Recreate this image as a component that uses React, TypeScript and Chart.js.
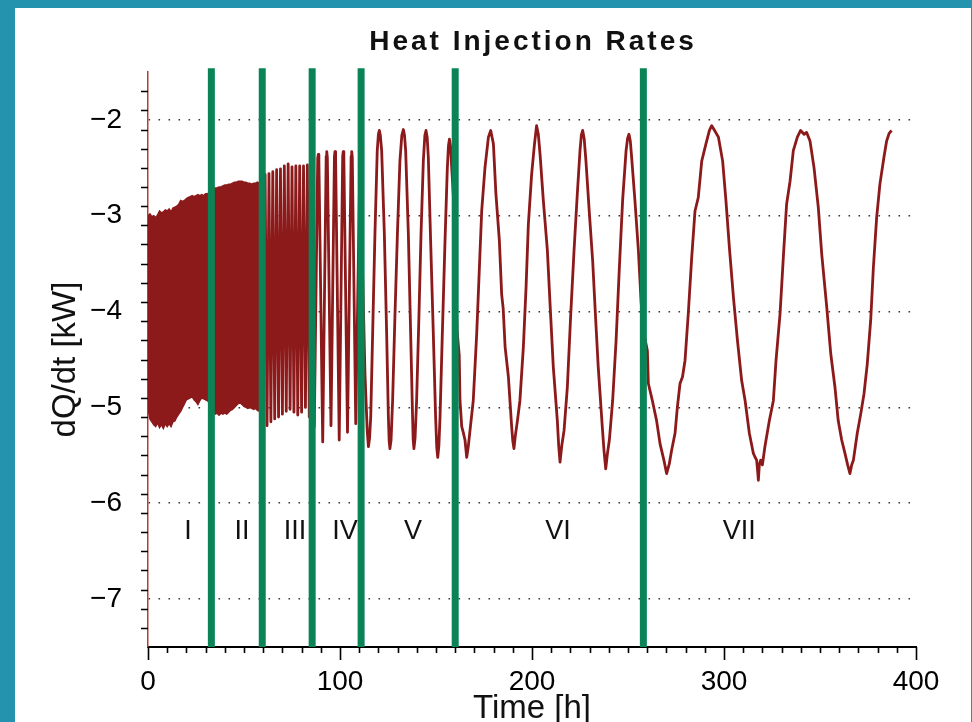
import { useEffect, useRef } from 'react';
import { Chart, registerables } from 'chart.js';

Chart.register(...registerables);

// ---- Data ----
// Stages I and II oscillate so fast that they read as a solid band: [time h, upper kW, lower kW].
const BAND_I_II: [number, number, number][] = [
  [0, -3.0, -5.02], [1, -2.98, -5.12], [2, -3.01, -5.15], [3, -3.0, -5.18], [4, -3.02, -5.2],
  [5, -2.99, -5.16], [6, -2.95, -5.21], [7, -2.97, -5.18], [8, -2.96, -5.22], [9, -2.94, -5.17],
  [10, -2.95, -5.2], [11, -2.93, -5.17], [12, -2.96, -5.2], [13, -2.92, -5.15], [14, -2.91, -5.14],
  [15, -2.9, -5.1], [16, -2.88, -5.07], [17, -2.84, -5.04], [18, -2.85, -5.0], [19, -2.84, -4.96],
  [20, -2.82, -4.92], [21, -2.81, -4.91], [22, -2.8, -4.9], [23, -2.79, -4.89], [24, -2.8, -4.92],
  [25, -2.79, -4.94], [26, -2.78, -4.97], [27, -2.79, -4.93], [28, -2.78, -4.9], [29, -2.79, -4.91],
  [30, -2.77, -4.92], [31, -2.77, -4.93], [32, -2.76, -4.95], [33, -2.75, -5.0], [34, -2.72, -5.05],
  [35, -2.71, -5.07], [36, -2.71, -5.06], [37, -2.7, -5.08], [38, -2.7, -5.06], [39, -2.69, -5.07],
  [40, -2.68, -5.06], [41, -2.68, -5.07], [42, -2.67, -5.05], [43, -2.67, -5.03], [44, -2.66, -5.02],
  [45, -2.65, -5.0], [46, -2.65, -4.98], [47, -2.64, -4.96], [48, -2.64, -4.95], [49, -2.64, -4.97],
  [50, -2.65, -4.99], [51, -2.65, -5.0], [52, -2.66, -5.01], [53, -2.66, -5.0], [54, -2.67, -5.01],
  [55, -2.66, -5.02], [56, -2.66, -5.01], [57, -2.65, -5.03], [58, -2.66, -5.04], [59, -2.65, -5.05],
  [59.5, -2.65, -5.06],
];

// Stages III to VII: the trace itself, [time h, dQ/dt kW].
const STAGE_III: [number, number][] = [
  [59.5, -4.0], [60.0, -5.12], [61.0, -2.57], [62.0, -5.19], [63.0, -2.56], [64.0, -5.15], [65.0, -2.54],
  [66.0, -5.12], [67.0, -2.52], [68.0, -5.1], [69.0, -2.51], [70.0, -5.07], [71.0, -2.48], [72.0, -5.04],
  [73.0, -2.46], [74.0, -5.02], [75.0, -2.49], [76.0, -5.05], [77.0, -2.48], [78.0, -5.08], [79.0, -2.48],
  [80.0, -5.05], [81.0, -2.48], [82.0, -5.0], [83.0, -2.47], [84.0, -5.1], [85.0, -2.45],
];
const STAGE_IV: [number, number][] = [
  [86.6, -5.2], [88.4, -2.4], [88.7, -2.36], [89.0, -2.42], [91.0, -5.36], [92.8, -2.38], [93.1, -2.33],
  [93.4, -2.39], [95.3, -5.19], [97.1, -2.38], [97.4, -2.33], [97.7, -2.39], [99.6, -5.34], [101.4, -2.38],
  [101.7, -2.33], [102.0, -2.39], [103.9, -5.26], [105.8, -2.38], [106.1, -2.33], [106.4, -2.39],
  [108.2, -5.17], [110.4, -2.4],
];
const STAGE_V: [number, number][] = [
  [113.0, -4.65], [114.2, -5.25], [114.8, -5.41], [115.4, -5.32], [116.0, -5.1], [117.0, -4.23],
  [118.2, -3.19], [119.4, -2.32], [120.0, -2.15], [120.5, -2.11], [121.0, -2.16], [121.7, -2.32],
  [123.1, -3.19], [124.3, -4.23], [125.2, -5.1], [125.6, -5.35], [126.0, -5.43], [126.6, -5.34],
  [127.4, -4.93], [128.6, -4.06], [129.9, -3.19], [131.2, -2.43], [132.2, -2.16], [133.0, -2.1],
  [133.6, -2.16], [134.2, -2.32], [135.6, -3.19], [136.8, -4.23], [137.8, -5.1], [138.1, -5.33],
  [138.5, -5.43], [139.1, -5.32], [139.9, -4.93], [141.1, -4.06], [142.2, -3.19], [143.4, -2.43],
  [144.2, -2.16], [144.8, -2.11], [145.4, -2.18], [146.0, -2.39], [147.2, -3.26], [148.6, -4.23],
  [149.8, -5.1], [150.4, -5.42], [150.9, -5.52], [151.5, -5.4], [152.1, -5.1], [153.3, -4.23],
  [154.7, -3.26], [155.9, -2.5], [156.5, -2.27], [157.0, -2.2], [157.6, -2.28], [158.2, -2.5],
  [159.1, -2.81], [160.0, -3.6], [161.0, -4.2],
];
const STAGE_VI: [number, number][] = [
  [162.1, -4.46], [162.5, -4.93], [163.4, -5.2], [164.2, -5.26], [165.1, -5.34], [166.0, -5.52],
  [166.8, -5.41], [168.1, -5.17], [169.4, -4.93], [170.2, -4.62], [171.2, -4.23], [172.6, -3.54],
  [173.8, -2.95], [175.5, -2.5], [177.3, -2.18], [178.5, -2.11], [179.9, -2.25], [181.2, -2.77],
  [183.0, -3.26], [184.2, -3.82], [185.0, -3.97], [186.0, -4.37], [187.7, -4.68], [189.4, -5.2],
  [190.0, -5.35], [190.6, -5.43], [191.3, -5.3], [192.4, -5.14], [193.7, -4.93], [195.5, -4.37],
  [196.9, -3.75], [198.1, -3.09], [199.8, -2.57], [201.3, -2.25], [202.4, -2.06], [203.3, -2.15],
  [204.2, -2.36], [205.9, -2.84], [208.0, -3.36], [209.4, -3.92], [211.1, -4.58], [213.2, -5.14],
  [213.9, -5.4], [214.6, -5.57], [215.5, -5.4], [216.7, -5.24], [218.4, -4.79], [220.1, -4.06],
  [221.9, -3.36], [223.6, -2.77], [225.0, -2.32], [225.7, -2.16], [226.4, -2.11], [227.2, -2.2],
  [228.1, -2.43], [229.9, -2.98], [231.6, -3.47], [233.0, -4.02], [234.5, -4.58], [236.6, -5.2],
  [237.5, -5.45], [238.4, -5.64], [239.3, -5.48], [240.3, -5.34], [242.0, -4.93], [243.8, -4.3],
  [245.5, -3.54], [247.2, -2.84], [249.0, -2.32], [249.8, -2.19], [250.5, -2.15], [251.2, -2.22],
  [251.9, -2.39], [253.6, -2.84], [255.4, -3.36], [256.8, -3.89], [258.0, -4.2],
];
const STAGE_VII: [number, number][] = [
  [260.1, -4.41], [260.6, -4.75], [262.7, -4.93], [264.9, -5.14], [266.7, -5.38], [268.7, -5.55],
  [270.1, -5.69], [271.5, -5.59], [272.7, -5.45], [274.5, -5.27], [275.7, -5.0], [277.1, -4.75],
  [278.4, -4.68], [279.7, -4.51], [281.4, -4.02], [283.2, -3.43], [284.9, -2.95], [286.6, -2.81],
  [288.4, -2.43], [290.6, -2.25], [292.4, -2.11], [293.6, -2.06], [294.8, -2.1], [297.1, -2.18],
  [299.3, -2.43], [301.0, -2.84], [302.8, -3.33], [304.9, -3.85], [307.0, -4.3], [309.2, -4.72],
  [311.0, -4.93], [313.2, -5.27], [315.3, -5.48], [316.2, -5.52], [317.0, -5.55], [317.5, -5.66],
  [317.9, -5.76], [318.4, -5.6], [319.1, -5.55], [320.0, -5.6], [321.3, -5.41], [323.6, -5.14],
  [325.7, -4.93], [327.1, -4.51], [329.2, -4.02], [331.0, -3.4], [332.6, -2.88], [334.4, -2.64],
  [336.1, -2.32], [338.2, -2.18], [339.9, -2.11], [341.7, -2.15], [343.0, -2.13], [344.8, -2.22],
  [346.9, -2.5], [349.1, -2.91], [350.9, -3.4], [353.5, -3.95], [355.6, -4.44], [357.8, -4.79],
  [359.5, -5.14], [361.3, -5.34], [363.0, -5.48], [364.4, -5.6], [365.6, -5.69], [366.5, -5.6],
  [367.4, -5.55], [369.4, -5.27], [371.2, -5.07], [372.9, -4.86], [374.6, -4.55], [376.4, -4.09],
  [377.8, -3.54], [379.5, -3.02], [381.2, -2.67], [383.3, -2.39], [384.7, -2.22], [386.0, -2.14],
  [387.3, -2.11],
];

const STAGE_BOUNDS = [33, 59.5, 85.5, 111, 160, 258];
const STAGE_LABELS = ['I', 'II', 'III', 'IV', 'V', 'VI', 'VII'];
const STAGE_LABEL_TIMES = [20.8, 49, 76.5, 102.6, 138, 213.5, 308];
const STAGE_LABEL_VALUE = -6.3;

const X_TICKS = [0, 100, 200, 300, 400];
const Y_TICKS = [-7, -6, -5, -4, -3, -2];
const X_RANGE = [0, 400];
const Y_RANGE = [-7.5, -1.5];

const TITLE = 'Heat Injection Rates';
const X_TITLE = 'Time [h]';
const Y_TITLE = 'dQ/dt [kW]';

// ---- Styles ----
const RED = '#8c1a1b';
const GREEN = '#0a8456';
const TEAL = '#2494ae';
const FONT = '"Liberation Sans", Arial, Helvetica, sans-serif';
const W = 972;
const H = 722;

const fmtY = (v: number) => (v < 0 ? '\u2212' : '') + String(Math.abs(v));

const decorPlugin = {
  id: 'decor',
  beforeDraw(chart: any) {
    const ctx = chart.ctx;
    ctx.save();
    ctx.fillStyle = TEAL;
    ctx.fillRect(0, 0, W, H);
    ctx.fillStyle = '#ffffff';
    ctx.fillRect(15, 8, W - 16, H - 8);
    ctx.restore();
  },
  afterDraw(chart: any) {
    const ctx = chart.ctx;
    const xs = chart.scales.x;
    const ys = chart.scales.y;
    const area = chart.chartArea;
    ctx.save();
    // tick marks (major + minor)
    ctx.strokeStyle = '#000';
    ctx.lineWidth = 1.6;
    ctx.beginPath();
    for (let i = 0; i <= 40; i++) {
      const v = X_RANGE[0] + i * 10;
      const px = Math.round(xs.getPixelForValue(v)) + 0.5;
      const len = i % 10 === 0 ? 13 : 6;
      ctx.moveTo(px, area.bottom);
      ctx.lineTo(px, area.bottom + len);
    }
    for (let i = 1; i < 30; i++) {
      const v = Y_RANGE[0] + i * 0.2;
      const py = Math.round(ys.getPixelForValue(v)) + 0.5;
      const major = Math.abs(v - Math.round(v)) < 1e-6;
      const len = major ? 17 : 7;
      ctx.moveTo(area.left, py);
      ctx.lineTo(area.left - len, py);
    }
    ctx.stroke();

    // title
    ctx.fillStyle = '#111';
    ctx.textAlign = 'center';
    ctx.textBaseline = 'middle';
    ctx.font = `bold 28px ${FONT}`;
    if ('letterSpacing' in ctx) (ctx as any).letterSpacing = '3px';
    ctx.fillText(TITLE, (area.left + area.right) / 2 + 1, 42);
    if ('letterSpacing' in ctx) (ctx as any).letterSpacing = '0px';

    // axis titles
    ctx.font = `33px ${FONT}`;
    ctx.fillText(X_TITLE, (area.left + area.right) / 2, 709);
    ctx.save();
    ctx.translate(66, (area.top + area.bottom) / 2);
    ctx.rotate(-Math.PI / 2);
    ctx.fillText(Y_TITLE, 0, 0);
    ctx.restore();

    // stage labels
    ctx.font = `27px ${FONT}`;
    STAGE_LABELS.forEach((lab, i) => {
      ctx.fillText(lab, xs.getPixelForValue(STAGE_LABEL_TIMES[i]), ys.getPixelForValue(STAGE_LABEL_VALUE));
    });
    ctx.restore();
  },
};

export default function App() {
  const ref = useRef<HTMLCanvasElement | null>(null);

  useEffect(() => {
    if (!ref.current) return;
    const boundSets = STAGE_BOUNDS.map((b) => ({
      type: 'line' as const,
      data: [
        { x: b, y: Y_RANGE[0] },
        { x: b, y: Y_RANGE[1] + 0.04 },
      ],
      borderColor: GREEN,
      borderWidth: 7,
      borderCapStyle: 'butt' as const,
      pointRadius: 0,
      fill: false,
      order: 0,
      clip: { left: 10, top: 10, right: 10, bottom: 0 },
    }));
    const trace = [...STAGE_III, ...STAGE_IV, ...STAGE_V, ...STAGE_VI, ...STAGE_VII];
    const chart = new Chart(ref.current, {
      type: 'line',
      data: {
        datasets: [
          ...boundSets,
          {
            data: BAND_I_II.map((r) => ({ x: r[0], y: r[1] })),
            borderColor: RED,
            backgroundColor: RED,
            borderWidth: 1.5,
            pointRadius: 0,
            tension: 0,
            fill: '+1',
            order: 2,
          },
          {
            data: BAND_I_II.map((r) => ({ x: r[0], y: r[2] })),
            borderColor: RED,
            backgroundColor: RED,
            borderWidth: 1.5,
            pointRadius: 0,
            tension: 0,
            fill: false,
            order: 2,
          },
          {
            data: trace.map((p) => ({ x: p[0], y: p[1] })),
            borderColor: RED,
            borderWidth: 2.8,
            borderJoinStyle: 'round',
            pointRadius: 0,
            tension: 0,
            fill: false,
            order: 2,
          },
        ] as any,
      },
      options: {
        animation: false,
        responsive: false,
        devicePixelRatio: 1,
        events: [],
        layout: { padding: { left: 0, top: 72, right: 56, bottom: 0 } },
        plugins: {
          legend: { display: false },
          tooltip: { enabled: false },
          title: { display: false },
        },
        scales: {
          x: {
            type: 'linear',
            min: X_RANGE[0],
            max: X_RANGE[1],
            afterBuildTicks: (s: any) => {
              s.ticks = X_TICKS.map((v) => ({ value: v }));
            },
            afterFit: (s: any) => {
              s.height = 75;
            },
            grid: { display: false, drawTicks: false },
            border: { display: true, color: '#000', width: 2 },
            ticks: {
              padding: 18,
              color: '#000',
              maxRotation: 0,
              autoSkip: false,
              font: { family: FONT, size: 28 },
            },
          },
          y: {
            type: 'linear',
            min: Y_RANGE[0],
            max: Y_RANGE[1],
            afterBuildTicks: (s: any) => {
              s.ticks = Y_TICKS.map((v) => ({ value: v }));
            },
            afterFit: (s: any) => {
              s.width = 148;
            },
            grid: { display: true, drawTicks: false, color: '#3a3a3a', lineWidth: 1.6 },
            border: { display: true, color: '#b83a3a', width: 1.5, dash: [1.6, 8.4] },
            ticks: {
              padding: 26,
              color: '#000',
              autoSkip: false,
              font: { family: FONT, size: 28 },
              callback: (v: any) => fmtY(Number(v)),
            },
          },
        },
      } as any,
      plugins: [decorPlugin],
    });
    return () => chart.destroy();
  }, []);

  return (
    <div style={{ position: 'fixed', left: 0, top: 0, width: W, height: H }}>
      <canvas ref={ref} width={W} height={H} style={{ display: 'block', width: W, height: H }} />
    </div>
  );
}
